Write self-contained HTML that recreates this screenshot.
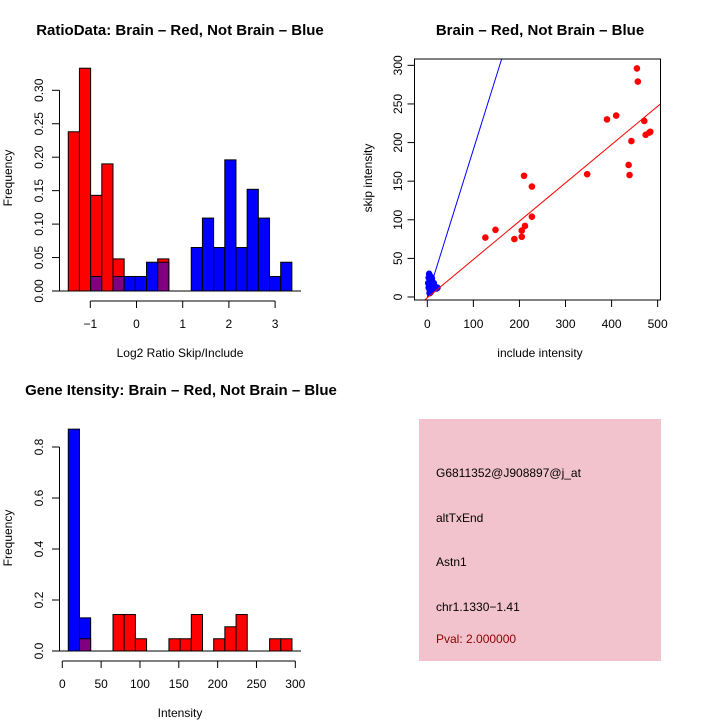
<!DOCTYPE html>
<html><head><meta charset="utf-8"><style>
html,body{margin:0;padding:0;background:#fff;}
svg{display:block;font-family:"Liberation Sans",sans-serif;}
</style></head><body>
<svg id="c" width="720" height="720" xmlns="http://www.w3.org/2000/svg"></svg>
<script>
// ---- top-left histogram data ----
const ratioBinStart = -1.477;
const ratioBinWidth = 0.242;
const ratioRed  = [0.238,0.333,0.143,0.190,0.048,0,0,0,0.048,0,0,0,0,0,0,0,0,0,0,0];
const ratioBlue = [0,0,0.0217,0,0.0217,0.0217,0.0217,0.043,0.043,0,0,0.065,0.109,0.065,0.196,0.065,0.152,0.109,0.0217,0.043];
const ratioYTicks = [0,0.05,0.10,0.15,0.20,0.25,0.30];
const ratioYLabels = ["0.00","0.05","0.10","0.15","0.20","0.25","0.30"];
const ratioXTicks = [-1,0,1,2,3];
const ratioXLabels = ["\u22121","0","1","2","3"];
// ---- scatter data ----
const redInclude = [126,148,189,205,205,212,210,227,227,347,390,410,437,439,443,455,457,471,474,482,484];
const redSkip    = [77,87,75,78,86,92,157,104,143,159,230,235,171,158,202,296,279,228,210,213,214];
const blueInclude = [2,3,4,5,6,4,5,7,8,9,10,6,3,12,14,15,18,20,22,8,10,5,7,11];
const blueSkip    = [18,25,30,28,22,15,10,12,20,17,14,8,12,15,18,12,13,11,12,26,24,5,6,9];
const redFit = [-1,0.496];   // intercept, slope
const blueFit = [0,1.91];
const scXTicks = [0,100,200,300,400,500];
const scYTicks = [0,50,100,150,200,250,300];
// ---- bottom histogram data ----
const intBinStart = 7.7;
const intBinWidth = 14.4;
const intRed  = [0,0.048,0,0,0.143,0.143,0.048,0,0,0.048,0.048,0.143,0,0.048,0.095,0.143,0,0,0.048,0.048];
const intBlue = [0.87,0.13,0,0,0,0,0,0,0,0,0,0,0,0,0,0,0,0,0,0];
const intYTicks = [0,0.2,0.4,0.6,0.8];
const intYLabels = ["0.0","0.2","0.4","0.6","0.8"];
const intXTicks = [0,50,100,150,200,250,300];
// ---- info text ----
const infoLines = ["G6811352@J908897@j_at","altTxEnd","Astn1","chr1.1330\u22121.41"];
const pvalText = "Pval: 2.000000";

const svg = document.getElementById('c');
const NS = "http://www.w3.org/2000/svg";
function mk(tag, attrs, parent){
  const e = document.createElementNS(NS, tag);
  for (const k in attrs) e.setAttribute(k, attrs[k]);
  (parent||svg).appendChild(e);
  return e;
}
function txt(x,y,s,opt,parent){
  const t = mk('text',Object.assign({x:x,y:y,'font-size':12,'text-anchor':'middle',fill:'#000'},opt||{}),parent);
  t.textContent = s;
  return t;
}

// ===== Panel 1 =====
{
  const g = mk('g',{});
  
  
  const xs = v => 136.5 + (v)*46.2;
  const ys = v => 291 - v*669;
  const t = txt(180,35,"RatioData: Brain \u2013 Red, Not Brain \u2013 Blue",{'font-size':15,'font-weight':'bold'},g);
  
  
  for (let i=0;i<ratioRed.length;i++){
    const x0 = xs(ratioBinStart+i*ratioBinWidth), x1 = xs(ratioBinStart+(i+1)*ratioBinWidth);
    const r = ratioRed[i], b = ratioBlue[i];
    if (r>0){ const e=mk('rect',{x:x0,y:ys(r),width:x1-x0,height:ys(0)-ys(r),fill:'#f00',stroke:'#000','stroke-width':1},g);
      
       }
    if (b>0){ const e=mk('rect',{x:x0,y:ys(b),width:x1-x0,height:ys(0)-ys(b),fill:(r>0?'#800080':'#00f'),stroke:'#000','stroke-width':1},g);
      
       }
  }
  mk('line',{x1:52,y1:291,x2:301,y2:291,stroke:'#000'},g);
  mk('line',{x1:59.5,y1:ys(0),x2:59.5,y2:ys(0.30),stroke:'#000'},g);
  ratioYTicks.forEach((v,i)=>{ mk('line',{x1:52,y1:ys(v),x2:59.5,y2:ys(v),stroke:'#000'},g);
    txt(0,0,ratioYLabels[i],{transform:`translate(43,${ys(v)}) rotate(-90)`},g);});
  mk('line',{x1:xs(-1),y1:301,x2:xs(3),y2:301,stroke:'#000'},g);
  ratioXTicks.forEach((v,i)=>{ mk('line',{x1:xs(v),y1:301,x2:xs(v),y2:308,stroke:'#000'},g);
    txt(xs(v),328,ratioXLabels[i],{},g);});
  txt(180,357,"Log2 Ratio Skip/Include",{},g);
  txt(0,0,"Frequency",{transform:'translate(12,178) rotate(-90)'},g);
}

// ===== Panel 2 =====
{
  const g = mk('g',{});
  
  
  const xs = v => 427.3 + v*0.4607;
  const ys = v => 297 - v*0.7722;
  txt(540,35,"Brain \u2013 Red, Not Brain \u2013 Blue",{'font-size':15,'font-weight':'bold'},g);
  const defs = mk('clipPath',{id:'cp'},g);
  mk('rect',{x:419,y:59,width:241,height:241},defs);
  redInclude.forEach((v,i)=>{ const c=mk('circle',{cx:xs(v),cy:ys(redSkip[i]),r:3.3,fill:'#f00'},g);
    
     });
  blueInclude.forEach((v,i)=>{ const c=mk('circle',{cx:xs(v),cy:ys(blueSkip[i]),r:3.3,fill:'#00f'},g);
    
     });
  const l1=mk('line',{x1:xs(-10),y1:ys(redFit[0]+redFit[1]*-10),x2:xs(520),y2:ys(redFit[0]+redFit[1]*520),stroke:'#f00','clip-path':'url(#cp)'},g);
  
  
  const l2=mk('line',{x1:xs(0),y1:ys(blueFit[0]),x2:xs(170),y2:ys(blueFit[0]+blueFit[1]*170),stroke:'#00f','clip-path':'url(#cp)'},g);
  
  
  mk('rect',{x:414.5,y:59,width:246,height:241,fill:'none',stroke:'#000'},g);
  mk('line',{x1:xs(0),y1:300,x2:xs(500),y2:300,stroke:'#000'},g);
  scXTicks.forEach(v=>{ mk('line',{x1:xs(v),y1:300,x2:xs(v),y2:307,stroke:'#000'},g); txt(xs(v),328,String(v),{},g);});
  scYTicks.forEach(v=>{ mk('line',{x1:407.5,y1:ys(v),x2:414.5,y2:ys(v),stroke:'#000'},g);
    txt(0,0,String(v),{transform:`translate(402,${ys(v)}) rotate(-90)`},g);});
  txt(540,357,"include intensity",{},g);
  txt(0,0,"skip intensity",{transform:'translate(372,178) rotate(-90)'},g);
}

// ===== Panel 3 =====
{
  const g = mk('g',{});
  
  
  const xs = v => 62.3 + v*0.7767;
  const ys = v => 651 - v*255;
  txt(181,395,"Gene Itensity: Brain \u2013 Red, Not Brain \u2013 Blue",{'font-size':15,'font-weight':'bold'},g);
  for (let i=0;i<intRed.length;i++){
    const x0 = xs(intBinStart+i*intBinWidth), x1 = xs(intBinStart+(i+1)*intBinWidth);
    const r = intRed[i], b = intBlue[i];
    if (b>0){ const e=mk('rect',{x:x0,y:ys(b),width:x1-x0,height:ys(0)-ys(b),fill:'#00f',stroke:'#000'},g);
      
       }
    if (r>0){ const e=mk('rect',{x:x0,y:ys(r),width:x1-x0,height:ys(0)-ys(r),fill:(b>0?'#800080':'#f00'),stroke:'#000'},g);
      
       }
  }
  mk('line',{x1:52,y1:651,x2:301,y2:651,stroke:'#000'},g);
  mk('line',{x1:59.5,y1:ys(0),x2:59.5,y2:ys(0.8),stroke:'#000'},g);
  intYTicks.forEach((v,i)=>{ mk('line',{x1:52,y1:ys(v),x2:59.5,y2:ys(v),stroke:'#000'},g);
    txt(0,0,intYLabels[i],{transform:`translate(43,${ys(v)}) rotate(-90)`},g);});
  mk('line',{x1:xs(0),y1:661,x2:xs(300),y2:661,stroke:'#000'},g);
  intXTicks.forEach(v=>{ mk('line',{x1:xs(v),y1:661,x2:xs(v),y2:668,stroke:'#000'},g); txt(xs(v),688,String(v),{},g);});
  txt(180,717,"Intensity",{},g);
  txt(0,0,"Frequency",{transform:'translate(12,538) rotate(-90)'},g);
}

// ===== Panel 4 =====
{
  const g = mk('g',{});
  
  
  mk('rect',{x:419,y:419,width:242,height:242,fill:'#f3c3cd'},g);
  const ys=[477,522,566,611];
  infoLines.forEach((s,i)=>{ txt(436,ys[i],s,{'text-anchor':'start'},g); });
  const p = txt(436,643,pvalText,{'text-anchor':'start',fill:'#8b0000'},g);
  
  
}
</script>
</body></html>
